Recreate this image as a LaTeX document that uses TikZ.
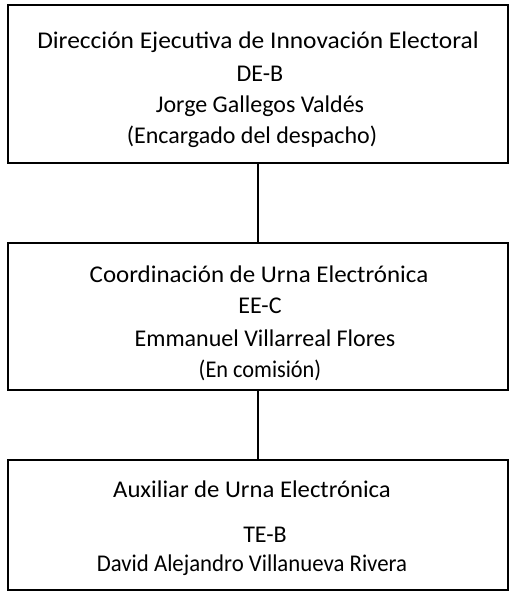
\documentclass[tikz,border=0pt]{standalone}
\usepackage{fontspec}
\usepackage{graphicx}
\setmainfont{Carlito}
\newcommand{\hsc}[2]{\scalebox{#1}[1]{#2}}
\begin{document}
\begin{tikzpicture}[x=1pt,y=-1pt,
  orgbox/.style={draw=black,line width=1.4pt,minimum width=500pt,inner sep=0pt},
  txt/.style={font=\fontsize{24}{28}\selectfont,inner sep=0pt,anchor=base},
  conn/.style={line width=1.4pt}]
\useasboundingbox (0,0) rectangle (510,604);
\node[orgbox,minimum height=158pt] (b1) at (258,84) {};
\node[orgbox,minimum height=147pt] (b2) at (258,316.5) {};
\node[orgbox,minimum height=130pt] (b3) at (258,525) {};
\draw[conn] (b1.south) -- (b2.north);
\draw[conn] (b2.south) -- (b3.north);
\node[txt] (t11) at (258,49) {\hsc{1.06}{Dirección Ejecutiva de Innovación Electoral}};
\node[txt] (t12) at (260,81.5) {DE-B};
\node[txt] (t13) at (260,112.5) {Jorge Gallegos Valdés};
\node[txt] (t14) at (252,144) {(Encargado del despacho)};
\node[txt] (t21) at (259,282.5) {\hsc{1.04}{Coordinación de Urna Electrónica}};
\node[txt] (t22) at (260,313.5) {EE-C};
\node[txt] (t23) at (265,346.5) {Emmanuel Villarreal Flores};
\node[txt] (t24) at (260,377.5) {\hsc{0.93}{(En comisión)}};
\node[txt] (t31) at (252,497.5) {\hsc{1.03}{Auxiliar de Urna Electrónica}};
\node[txt] (t32) at (265,542.5) {TE-B};
\node[txt] (t33) at (252,571.5) {\hsc{0.95}{David Alejandro Villanueva Rivera}};
\end{tikzpicture}
\end{document}
